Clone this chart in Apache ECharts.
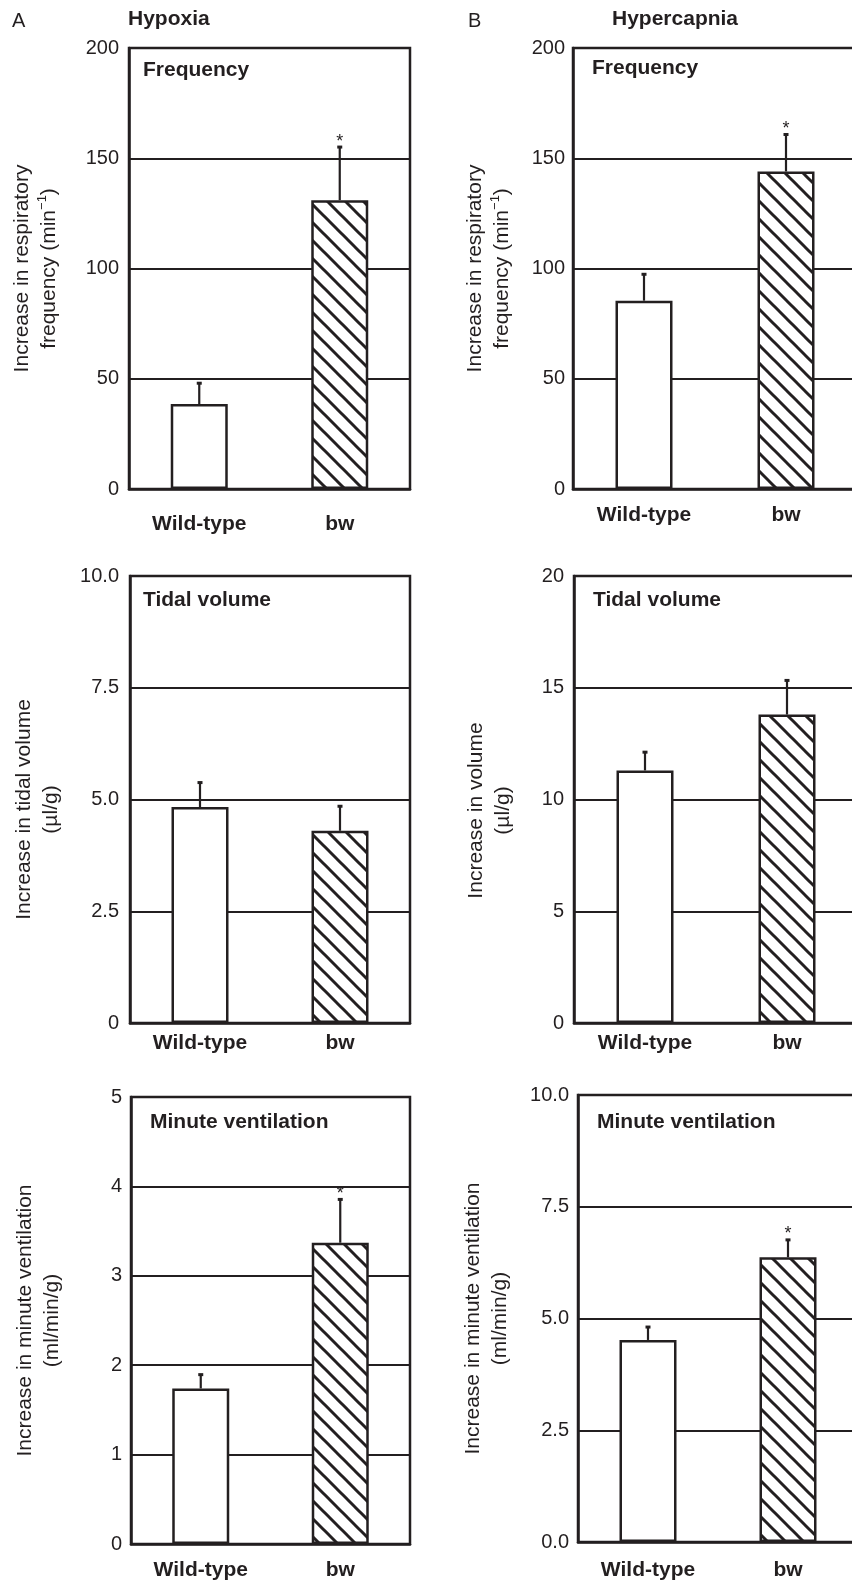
<!DOCTYPE html>
<html>
<head>
<meta charset="utf-8">
<script src="https://cdn.jsdelivr.net/npm/echarts@6/dist/echarts.min.js"></script>
<style>
html,body{margin:0;padding:0;background:#fff;}
#chart{width:852px;height:1582px;}
</style>
</head>
<body>
<div id="chart"></div>
<script>
// ---------------- DATA ----------------
const categories = ['Wild-type', 'bw'];

const freqHypoxiaMean = [38.5, 131];
const freqHypoxiaErr = [9.7, 24.3];
const freqHypercapniaMean = [85.4, 144];
const freqHypercapniaErr = [12.2, 17];

const tidalHypoxiaMean = [4.83, 4.30];
const tidalHypoxiaErr = [0.56, 0.56];
const tidalHypercapniaMean = [11.3, 13.8];
const tidalHypercapniaErr = [0.84, 1.55];

const minuteHypoxiaMean = [1.74, 3.37];
const minuteHypoxiaErr = [0.16, 0.49];
const minuteHypercapniaMean = [4.52, 6.37];
const minuteHypercapniaErr = [0.30, 0.40];

const freqSignificant = [false, true];
const tidalSignificant = [false, false];
const minuteSignificant = [false, true];

const freqTicks = ['0', '50', '100', '150', '200'];
const tidalHypoxiaTicks = ['0', '2.5', '5.0', '7.5', '10.0'];
const tidalHypercapniaTicks = ['0', '5', '10', '15', '20'];
const minuteHypoxiaTicks = ['0', '1', '2', '3', '4', '5'];
const minuteHypercapniaTicks = ['0.0', '2.5', '5.0', '7.5', '10.0'];

const columnTitles = ['Hypoxia', 'Hypercapnia'];
const columnLetters = ['A', 'B'];
const panelTitles = ['Frequency', 'Tidal volume', 'Minute ventilation'];
const yNames = [
  'Increase in respiratory\nfrequency (min{sup|\u22121})',
  'Increase in respiratory\nfrequency (min{sup|\u22121})',
  'Increase in tidal volume\n(\u00b5l/g)',
  'Increase in volume\n(\u00b5l/g)',
  'Increase in minute ventilation\n(ml/min/g)',
  'Increase in minute ventilation\n(ml/min/g)'
];

// ---------------- PANELS ----------------
const panels = [
  {mean: freqHypoxiaMean, err: freqHypoxiaErr, sig: freqSignificant, ticks: freqTicks, interval: 50},
  {mean: freqHypercapniaMean, err: freqHypercapniaErr, sig: freqSignificant, ticks: freqTicks, interval: 50},
  {mean: tidalHypoxiaMean, err: tidalHypoxiaErr, sig: tidalSignificant, ticks: tidalHypoxiaTicks, interval: 2.5},
  {mean: tidalHypercapniaMean, err: tidalHypercapniaErr, sig: tidalSignificant, ticks: tidalHypercapniaTicks, interval: 5},
  {mean: minuteHypoxiaMean, err: minuteHypoxiaErr, sig: minuteSignificant, ticks: minuteHypoxiaTicks, interval: 1},
  {mean: minuteHypercapniaMean, err: minuteHypercapniaErr, sig: minuteSignificant, ticks: minuteHypercapniaTicks, interval: 2.5}
];

// layout (positions / styles only)
const layout = [
  {left: 129, top: 48, width: 281, height: 441, nameGap: 66, nameShift: 0, yMargin: 10, xMargin: 25, tx: 143, ty: 72},
  {left: 573, top: 48, width: 284, height: 441, nameGap: 57, nameShift: 0, yMargin: 8, xMargin: 16, tx: 592, ty: 70},
  {left: 130, top: 576, width: 280, height: 447, nameGap: 65, nameShift: 20, yMargin: 11, xMargin: 10, tx: 143, ty: 602},
  {left: 574, top: 576, width: 284, height: 447, nameGap: 57, nameShift: 22, yMargin: 10, xMargin: 10, tx: 593, ty: 602},
  {left: 131, top: 1097, width: 279, height: 447, nameGap: 65, nameShift: 0, yMargin: 9, xMargin: 16, tx: 150, ty: 1124},
  {left: 578, top: 1095, width: 280, height: 447, nameGap: 64, nameShift: 0, yMargin: 9, xMargin: 18, tx: 597, ty: 1124}
];

const INK = '#231f20';
const FONT = '"Liberation Sans", Arial, Helvetica, sans-serif';

// hatch pattern
function makeHatch() {
  const s = 18;
  const c = document.createElement('canvas');
  c.width = s; c.height = s;
  const g = c.getContext('2d');
  g.fillStyle = '#fff';
  g.fillRect(0, 0, s, s);
  g.strokeStyle = INK;
  g.lineWidth = 3;
  g.lineCap = 'square';
  for (let k = -1; k <= 1; k++) {
    g.beginPath();
    g.moveTo(k * s, 0);
    g.lineTo(k * s + s, s);
    g.stroke();
  }
  return c;
}
const hatch = {image: makeHatch(), repeat: 'repeat'};

const grids = [], xAxes = [], yAxes = [], series = [], graphics = [];

panels.forEach((p, i) => {
  const L = layout[i];
  grids.push({
    left: L.left, top: L.top, width: L.width, height: L.height,
    show: true, borderColor: INK, borderWidth: 2.5, backgroundColor: 'transparent',
    containLabel: false, outerBoundsMode: 'none'
  });
  xAxes.push({
    type: 'category', gridIndex: i, data: categories,
    axisLine: {show: true, lineStyle: {color: INK, width: 2.5}},
    axisTick: {show: false},
    axisLabel: {color: INK, fontSize: 21, fontWeight: 'bold', fontFamily: FONT, margin: L.xMargin},
    splitLine: {show: false}
  });
  const maxV = p.interval * (p.ticks.length - 1);
  yAxes.push({
    type: 'value', gridIndex: i, min: 0, max: maxV, interval: p.interval,
    name: yNames[i], nameLocation: 'middle', nameGap: L.nameGap, nameMoveOverlap: false,
    nameTextStyle: {
      color: INK, fontSize: 21, fontFamily: FONT, lineHeight: 27, align: 'center',
      padding: [0, L.nameShift, 0, 0],
      rich: {sup: {fontSize: 13, fontFamily: FONT, color: INK, verticalAlign: 'top', lineHeight: 27}}
    },
    axisLine: {show: true, lineStyle: {color: INK, width: 2.5}},
    axisTick: {show: false},
    axisLabel: {
      color: INK, fontSize: 20, fontFamily: FONT, margin: L.yMargin,
      formatter: (v) => p.ticks[Math.round(v / p.interval)]
    },
    splitLine: {show: true, lineStyle: {color: INK, width: 2}}
  });
  series.push({
    type: 'bar', xAxisIndex: i, yAxisIndex: i, barWidth: 57, z: 2,
    silent: true, animation: false,
    data: p.mean.map((m, j) => ({
      value: m,
      itemStyle: {color: j === 0 ? '#ffffff' : hatch, borderColor: INK, borderWidth: 2.5}
    }))
  });
  series.push({
    type: 'custom', xAxisIndex: i, yAxisIndex: i, z: 3, silent: true, animation: false,
    encode: {x: 0, y: 1},
    data: p.mean.map((m, j) => [j, m, p.err[j], p.sig[j] ? 1 : 0]),
    renderItem: (params, api) => {
      const x = api.value(0), m = api.value(1), e = api.value(2), star = api.value(3);
      const p0 = api.coord([x, m]);
      const p1 = api.coord([x, m + e]);
      const children = [
        {type: 'line', shape: {x1: p0[0], y1: p0[1], x2: p1[0], y2: p1[1]},
         style: {stroke: INK, lineWidth: 2.2}},
        {type: 'rect', shape: {x: p1[0] - 2.5, y: p1[1] - 1, width: 5, height: 3},
         style: {fill: INK}}
      ];
      if (star) {
        children.push({type: 'text', x: p1[0], y: p1[1] - 5,
          style: {text: '*', fill: INK, fontSize: 18, fontFamily: FONT, align: 'center', verticalAlign: 'middle'}});
      }
      return {type: 'group', children: children};
    }
  });
  graphics.push({
    type: 'text', left: L.tx, top: L.ty - 12, z: 10, silent: true,
    style: {text: panelTitles[Math.floor(i / 2)], fill: INK, fontSize: 21, fontWeight: 'bold', fontFamily: FONT}
  });
});

graphics.push(
  {type: 'text', left: 12, top: 11, style: {text: columnLetters[0], fill: INK, fontSize: 20, fontFamily: FONT}},
  {type: 'text', left: 128, top: 9, style: {text: columnTitles[0], fill: INK, fontSize: 21, fontWeight: 'bold', fontFamily: FONT}},
  {type: 'text', left: 468, top: 11, style: {text: columnLetters[1], fill: INK, fontSize: 20, fontFamily: FONT}},
  {type: 'text', left: 612, top: 9, style: {text: columnTitles[1], fill: INK, fontSize: 21, fontWeight: 'bold', fontFamily: FONT}}
);

const chart = echarts.init(document.getElementById('chart'), null, {renderer: 'canvas'});
chart.setOption({
  backgroundColor: '#ffffff',
  animation: false,
  textStyle: {fontFamily: FONT},
  grid: grids,
  xAxis: xAxes,
  yAxis: yAxes,
  series: series,
  graphic: graphics
});
</script>
</body>
</html>
